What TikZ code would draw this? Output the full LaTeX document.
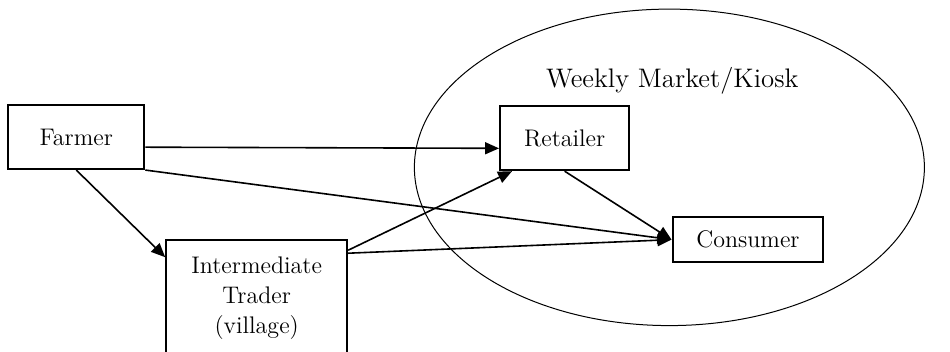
\documentclass[tikz,border=0pt]{standalone}
\usepackage{tikz}
\usetikzlibrary{arrows.meta,shapes,positioning}

\begin{document}
\begin{tikzpicture}[>={Triangle[length=7pt,width=6pt]},
  box/.style={draw,line width=1pt,inner sep=0pt,font=\large},
  flow/.style={->,line width=0.8pt}]
  \clip (0,0) rectangle (16.69,6.17);

  \node[draw,ellipse,line width=0.5pt,minimum width=8.96cm,minimum height=5.56cm] (market) at (11.76,3.23) {};
  \node[font=\fontsize{13.4}{16}\selectfont] (mlabel) at (11.81,4.75) {Weekly Market/Kiosk};

  \node[box,minimum width=2.39cm,minimum height=1.12cm] (farmer) at (1.34,3.76) {Farmer};
  \node[box,minimum width=3.18cm,minimum height=2.05cm,align=center,
    font=\fontsize{12}{15}\selectfont] (trader) at (4.51,0.925)
    {Intermediate\\Trader\\(village)};
  \node[box,minimum width=2.27cm,minimum height=1.12cm] (retailer) at (9.92,3.74) {Retailer};
  \node[box,minimum width=2.65cm,minimum height=0.79cm] (consumer) at (13.14,1.96) {Consumer};

  \draw[flow] ([yshift=-5pt]farmer.east) -- ([yshift=-5pt]retailer.west);
  \draw[flow] (farmer.south east) -- (consumer.west);
  \draw[flow] (farmer.south) -- ([yshift=-9pt]trader.north west);
  \draw[flow] ([yshift=-5.5pt]trader.north east) -- ([xshift=6.5pt]retailer.south west);
  \draw[flow] ([yshift=-7pt]trader.north east) -- (consumer.west);
  \draw[flow] (retailer.south) -- (consumer.west);
\end{tikzpicture}
\end{document}
